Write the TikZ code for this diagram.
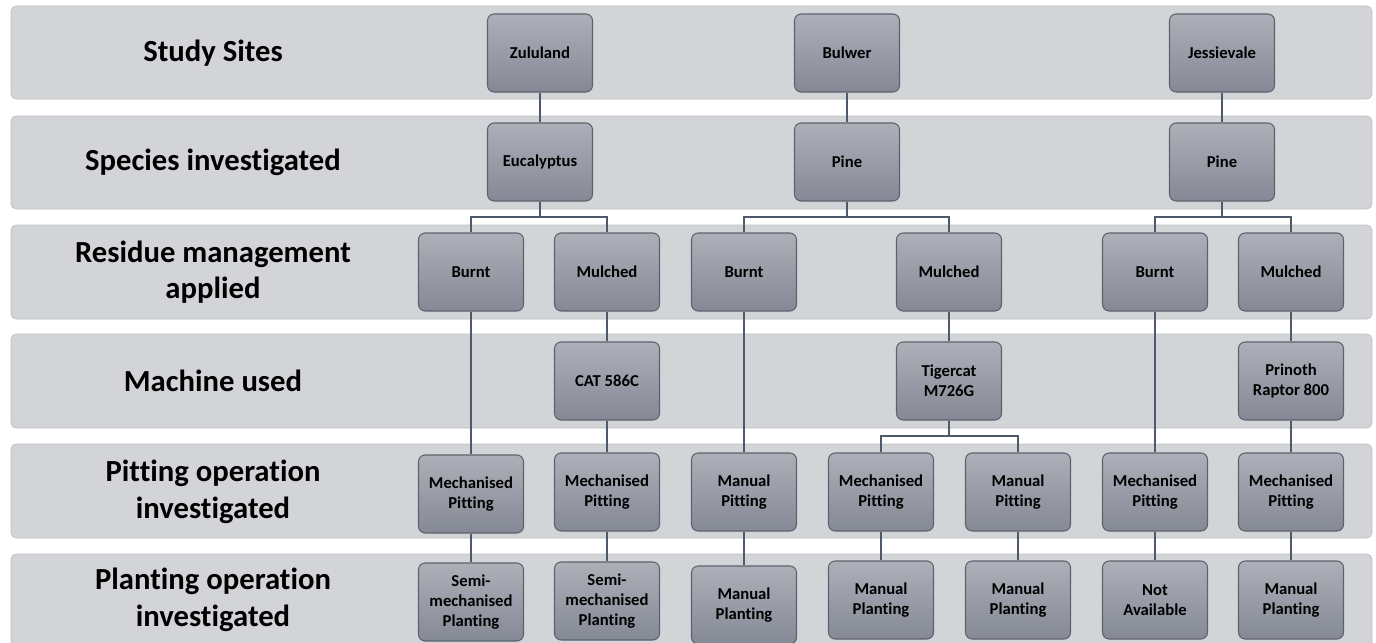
\documentclass[tikz,border=0pt]{standalone}
\usepackage{fontspec}
\setmainfont[Ligatures=NoCommon]{Carlito}
\usetikzlibrary{calc}
\definecolor{bandfill}{HTML}{D3D4D8}
\definecolor{bandedge}{HTML}{BFC0C4}
\definecolor{boxtop}{HTML}{ADB0B8}
\definecolor{boxbot}{HTML}{858995}
\definecolor{boxedge}{HTML}{5E626C}
\definecolor{linkcol}{HTML}{4E596A}
\tikzset{
  band/.style={fill=bandfill, draw=bandedge, line width=0.6pt, rounded corners=4pt},
  rowlabel/.style={font=\fontsize{23}{27.5}\selectfont\bfseries, align=center, text=black},
  item/.style={draw=boxedge, line width=0.8pt, rounded corners=5pt,
    top color=boxtop, bottom color=boxbot,
    minimum width=78.75pt, minimum height=58.5pt, inner sep=1pt,
    font=\fontsize{12.5}{15}\selectfont\bfseries, align=center, text=black},
  link/.style={draw=linkcol, line width=1.1pt}
}
\begin{document}
\begin{tikzpicture}[x=0.75pt, y=-0.75pt]
\useasboundingbox (0,0) rectangle (1376,642);
\clip (0,0) rectangle (1376,642);

% horizontal bands
\foreach \t/\b in {6/99, 116/209, 225/319, 334/428, 444/538, 554/660}
  \path[band] (11,\t) rectangle (1372,\b);

% row headings
\node[rowlabel] (lab1) at (213,53)  {Study Sites};
\node[rowlabel] (lab2) at (213,162) {Species investigated};
\node[rowlabel] (lab3) at (213,272) {Residue management\\applied};
\node[rowlabel] (lab4) at (213,381) {Machine used};
\node[rowlabel] (lab5) at (213,492) {Pitting operation\\investigated};
\node[rowlabel] (lab6) at (213,600) {Planting operation\\investigated};

% sites
\node[item] (zul) at (540,53)  {Zululand};
\node[item] (bul) at (847,53)  {Bulwer};
\node[item] (jes) at (1222,53) {Jessievale};

% species
\node[item] (euc)   at (540,162)  {Eucalyptus};
\node[item] (pineb) at (847,162)  {Pine};
\node[item] (pinej) at (1222,162) {Pine};

% residue management
\node[item] (zb) at (471,272)  {Burnt};
\node[item] (zm) at (607,272)  {Mulched};
\node[item] (bb) at (744,272)  {Burnt};
\node[item] (bm) at (949,272)  {Mulched};
\node[item] (jb) at (1155,272) {Burnt};
\node[item] (jm) at (1291,272) {Mulched};

% machines
\node[item] (cat) at (607,381)  {CAT 586C};
\node[item] (tig) at (949,381)  {Tigercat\\M726G};
\node[item] (pri) at (1291,381) {Prinoth\\Raptor 800};

% pitting
\node[item] (p1) at (471,494)  {Mechanised\\Pitting};
\node[item] (p2) at (607,492)  {Mechanised\\Pitting};
\node[item] (p3) at (744,492)  {Manual\\Pitting};
\node[item] (p4) at (881,492)  {Mechanised\\Pitting};
\node[item] (p5) at (1018,492) {Manual\\Pitting};
\node[item] (p6) at (1155,492) {Mechanised\\Pitting};
\node[item] (p7) at (1291,492) {Mechanised\\Pitting};

% planting
\node[item] (q1) at (471,602)  {Semi-\\mechanised\\Planting};
\node[item] (q2) at (607,601)  {Semi-\\mechanised\\Planting};
\node[item] (q3) at (744,605)  {Manual\\Planting};
\node[item] (q4) at (881,600)  {Manual\\Planting};
\node[item] (q5) at (1018,600) {Manual\\Planting};
\node[item] (q6) at (1155,600) {Not\\Available};
\node[item] (q7) at (1291,600) {Manual\\Planting};

% branch points
\coordinate (j1) at (540,217);
\coordinate (j2) at (847,217);
\coordinate (j3) at (1222,217);
\coordinate (j4) at (949,436);

% connectors
\draw[link] (zul) -- (euc);
\draw[link] (bul) -- (pineb);
\draw[link] (jes) -- (pinej);
\draw[link] (euc.south) -- (j1);
\draw[link] (j1) -| (zb.north);
\draw[link] (j1) -| (zm.north);
\draw[link] (pineb.south) -- (j2);
\draw[link] (j2) -| (bb.north);
\draw[link] (j2) -| (bm.north);
\draw[link] (pinej.south) -- (j3);
\draw[link] (j3) -| (jb.north);
\draw[link] (j3) -| (jm.north);
\draw[link] (zb) -- (p1);
\draw[link] (zm) -- (cat);
\draw[link] (cat) -- (p2);
\draw[link] (bb) -- (p3);
\draw[link] (bm) -- (tig);
\draw[link] (tig.south) -- (j4);
\draw[link] (j4) -| (p4.north);
\draw[link] (j4) -| (p5.north);
\draw[link] (jb) -- (p6);
\draw[link] (jm) -- (pri);
\draw[link] (pri) -- (p7);
\draw[link] (p1) -- (q1);
\draw[link] (p2) -- (q2);
\draw[link] (p3) -- (q3);
\draw[link] (p4) -- (q4);
\draw[link] (p5) -- (q5);
\draw[link] (p6) -- (q6);
\draw[link] (p7) -- (q7);
\end{tikzpicture}
\end{document}
